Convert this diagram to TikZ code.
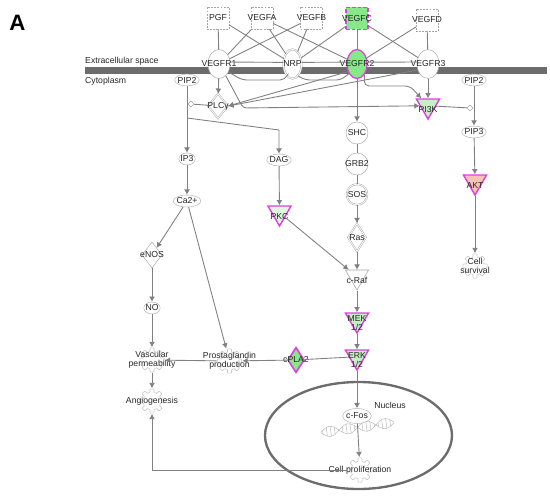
\documentclass[tikz,border=0pt]{standalone}
\usepackage{fontspec}
\setmainfont{Liberation Sans}
\usetikzlibrary{shapes.geometric,arrows.meta}

\definecolor{edgegray}{RGB}{128,128,128}
\definecolor{bargray}{RGB}{108,108,108}
\definecolor{hitmag}{RGB}{222,64,222}
\definecolor{upgreen}{RGB}{134,232,134}
\definecolor{kingreen}{RGB}{196,240,196}
\definecolor{palegreen}{RGB}{224,246,224}
\definecolor{aktpink}{RGB}{246,196,180}

% tandwiel achter een functie-knoop
\newcommand{\cogat}[1]{%
  \draw[cogline, shift={(#1)}] plot[domain=0:360, samples=145, variable=\t]
    (\t:{10.5+1.7*tanh(4*cos(8*\t))});}

\begin{document}
\begin{tikzpicture}[x=0.3mm, y=-0.3mm, >={Latex[length=4.5pt,width=5pt]},
    font=\fontsize{7.4}{8}\selectfont, text=black!85]

% --- Styles ---
\tikzset{
    ligand/.style={
        rectangle, draw=gray!70, dash pattern=on 1.6pt off 1.1pt,
        fill=white, minimum size=6.6mm, inner sep=0pt, label=center:#1
    },
    hit/.style={
        draw=hitmag, line width=1.1pt, dash pattern=on 3.2pt off 1.6pt, fill=upgreen
    },
    receptor/.style={
        ellipse, draw=gray!70, fill=white, minimum width=6.6mm,
        minimum height=8.7mm, inner sep=0pt, label=center:#1
    },
    kinase/.style={
        regular polygon, regular polygon sides=3, shape border rotate=180,
        minimum size=8mm, inner sep=0pt, draw=hitmag, line width=1.2pt,
        fill=kingreen, label={[yshift=-1mm, align=center]center:#1}
    },
    switch/.style={
        diamond, draw=gray!70, fill=white, minimum width=6mm,
        minimum height=7.4mm, inner sep=0pt, label=center:#1
    },
    adaptor/.style={
        circle, draw=gray!70, fill=white, minimum size=6.6mm,
        inner sep=0pt, label=center:#1
    },
    molecule/.style={
        ellipse, draw=gray!60, fill=white, inner xsep=-0.6pt, inner ysep=1pt
    },
    func/.style={
        circle, minimum size=7.6mm, inner sep=0pt, label={[align=center]center:#1}
    },
    dot/.style={diamond, draw=gray!70, fill=white, minimum size=1.9mm, inner sep=0pt},
    cogline/.style={draw=gray!45, line width=0.5pt},
    dnaline/.style={draw=gray!55, line width=0.4pt},
    bind/.style={draw=edgegray, line width=0.75pt},
    act/.style={bind, ->}
}

\useasboundingbox (0,0) rectangle (550,496);

% --- Paneel en membraan ---
\node[font=\bfseries\fontsize{19}{19}\selectfont, text=black] (panel) at (17.5,23) {A};
\draw[bargray, line width=2.1mm] (85,70.5) -- (547,70.5);
\node[anchor=west, inner sep=0pt] (extra) at (85,61) {Extracellular space};
\node[anchor=west, inner sep=0pt] (cyto) at (85,81) {Cytoplasm};

% --- Liganden ---
\node[ligand=PGF] (pgf) at (218,18) {};
\node[ligand=VEGFA] (vegfa) at (262,18) {};
\node[ligand=VEGFB] (vegfb) at (311.5,18) {};
\node[ligand=VEGFC, hit] (vegfc) at (357,18.5) {};
\node[ligand=VEGFD] (vegfd) at (427,20) {};

% --- Receptoren ---
\node[receptor=VEGFR1] (vr1) at (219,64) {};
\node[receptor=NRP, double, double distance=0.8pt, minimum width=5.4mm,
      minimum height=8.8mm] (nrp) at (292.5,64) {};
\node[receptor=VEGFR2, draw=hitmag, line width=1.1pt, fill=upgreen,
      minimum width=6mm] (vr2) at (357,64) {};
\node[receptor=VEGFR3] (vr3) at (428,64) {};

% --- Cytoplasma, links ---
\node[molecule] (pip2a) at (187,80) {PIP2};
\node[dot] (dota) at (191,104) {};
\node[switch=PLCγ, double, double distance=0.7pt] (plc) at (218,106) {};
\coordinate (split) at (187,118);
\node[molecule] (ip3) at (187,159) {IP3};
\node[molecule] (ca) at (187,201) {Ca2+};
\node[switch=eNOS, minimum height=7.8mm] (enos) at (152,255) {};
\node[molecule] (no) at (152,308) {NO};
\cogat{152,360}
\node[func={Vascular\\permeability}] (vasc) at (152,360) {};
\cogat{152,401}
\node[func=Angiogenesis] (angio) at (152,401) {};
\cogat{229.5,361}
\node[func={Prostaglandin\\production}] (prost) at (229.5,361) {};
\node[switch=cPLA2, draw=hitmag, line width=1.4pt, fill=upgreen,
      minimum width=5mm, minimum height=7.6mm] (cpla) at (296,360) {};

% --- Cytoplasma, midden ---
\node[molecule] (dag) at (279,160) {DAG};
\node[kinase=PKC, fill=palegreen] (pkc) at (279.5,212.7) {};
\node[adaptor=SHC] (shc) at (357,133) {};
\node[adaptor=GRB2] (grb2) at (357,164) {};
\node[adaptor=SOS, double, double distance=0.7pt, minimum size=6.2mm] (sos) at (357,194.5) {};
\node[switch=Ras, double, double distance=0.7pt, minimum width=5.4mm,
      minimum height=8.4mm] (ras) at (357,237.5) {};
\node[kinase=c-Raf, draw=gray!70, line width=0.5pt, fill=white] (craf) at (357,276.7) {};
\node[kinase={MEK\\1/2}] (mek) at (357,319.7) {};
\node[kinase={ERK\\1/2}] (erk) at (357,356.7) {};

% --- Cytoplasma, rechts ---
\node[kinase=PI3K] (pi3k) at (428,105.7) {};
\node[molecule] (pip2b) at (474,80) {PIP2};
\node[dot] (dotb) at (470,108) {};
\node[molecule] (pip3) at (474,132) {PIP3};
\node[kinase=AKT, fill=aktpink] (akt) at (475,181.7) {};
\cogat{475,266}
\node[func={Cell\\survival}] (surv) at (475,266) {};

% --- Kern ---
\draw[bargray, line width=2pt] (358.5,435.5) ellipse [x radius=28.05mm, y radius=16.05mm];
\node (nuclabel) at (390,405) {Nucleus};
\begin{scope}[shift={(357.5,427.5)}, rotate=8]
    \draw[dnaline] plot[domain=-37:37, samples=60, variable=\t] (\t,{5*sin(9.7*\t)});
    \draw[dnaline] plot[domain=-37:37, samples=60, variable=\t] (\t,{-5*sin(9.7*\t)});
    \foreach \s in {-35,-31,...,35}
        \draw[dnaline] (\s,{5*sin(9.7*\s)}) -- (\s,{-5*sin(9.7*\s)});
\end{scope}
\node[molecule, minimum width=8.4mm, minimum height=4.5mm] (cfos) at (357,416) {c-Fos};
\cogat{360,470}
\node[func=Cell proliferation] (prolif) at (360,470) {};

% --- Binding ligand-receptor ---
\draw[bind] (pgf) -- (vr1);
\draw[bind] (pgf) -- (nrp);
\draw[bind] (vegfa) -- (vr1);
\draw[bind] (vegfa) -- (nrp);
\draw[bind] (vegfa) -- (vr2);
\draw[bind] (vegfb) -- (vr1);
\draw[bind] (vegfb) -- (nrp);
\draw[bind] (vegfc) -- (nrp);
\draw[bind] (vegfc) -- (vr2);
\draw[bind] (vegfc) -- (vr3);
\draw[bind] (vegfd) -- (vr2);
\draw[bind] (vegfd) -- (vr3);

% --- Binding receptor-receptor ---
\draw[bind] (vr1.10) -- (nrp.170);
\draw[bind] (nrp.10) -- (vr2.170);
\draw[bind] (vr2.10) -- (vr3.170);
\draw[bind, rounded corners=1.5mm] (vr1.-40) -- (242,80) -- (285,80) -- (nrp.-115);
\draw[bind, rounded corners=1.5mm] (nrp.-65) -- (305,80) -- (341,80) -- (vr2.-130);

% --- Pijlen ---
\draw[act] (vr1) -- (plc);
\draw[act] (vr2.-140) -- (plc.east);
\draw[act] (vr3.-150) -- (plc.east);
\draw[act, rounded corners=1mm] (vr1.-60) -- (243,108) -- (pi3k);
\draw[act, rounded corners=1.5mm] (vr2.-55) -- (364,86) -- (410,86) -- (pi3k);
\draw[act] (vr3) -- (pi3k);
\draw[act] (vr2) -- (shc);

\draw[act] (pip2a) -- (ip3);
\draw[bind] (dota) -- (plc);
\draw[act] (split) -- (279,130) -- (dag);
\draw[act] (ip3) -- (ca);
\draw[act] (ca) -- (enos);
\draw[act] (ca) -- (prost);
\draw[act] (enos) -- (no);
\draw[act] (no) -- (vasc);
\draw[act] (vasc) -- (angio);
\draw[act] (prost) -- (vasc);
\draw[act] (cpla) -- (prost);
\draw[bind] (erk) -- (cpla);

\draw[act] (dag) -- (pkc);
\draw[act] (pkc) -- (craf);
\draw[bind] (shc) -- (grb2);
\draw[bind] (grb2) -- (sos);
\draw[act] (sos) -- (ras);
\draw[act] (ras) -- (craf);
\draw[act] (craf) -- (mek);
\draw[act] (mek) -- (erk);
\draw[act] (erk) -- (cfos);
\draw[act] (cfos) -- (prolif);
\draw[act] (prolif.west) -| (angio.south);

\draw[act] (pip2b) -- (pip3);
\draw[bind] (pi3k) -- (dotb);
\draw[act] (pip3) -- (akt);
\draw[act] (akt) -- (surv);
\end{tikzpicture}
\end{document}
